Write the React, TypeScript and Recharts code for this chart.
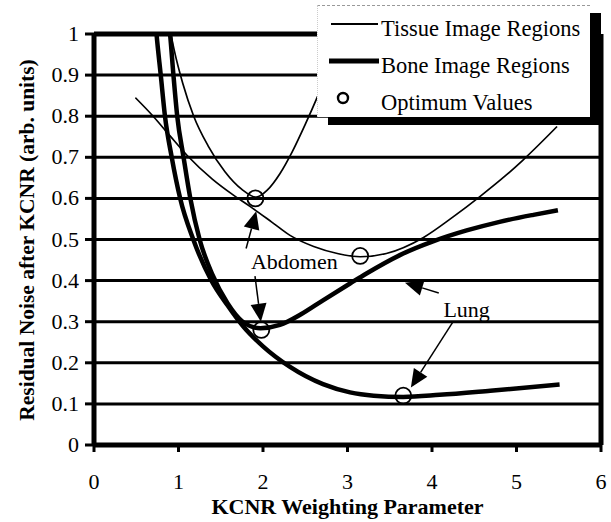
import React from 'react';
import {
  ComposedChart, Line, Scatter, XAxis, YAxis, CartesianGrid,
  ReferenceLine, ReferenceDot, Label,
} from 'recharts';

const FONT = 'Liberation Serif, Tinos, Times New Roman, Times, DejaVu Serif, serif';

const xTicks = [0, 1, 2, 3, 4, 5, 6];
const yTicks = [0, 0.1, 0.2, 0.3, 0.4, 0.5, 0.6, 0.7, 0.8, 0.9, 1];

// thin curves (tissue image regions)
const tissueAbdomenX = [0.9, 0.95, 1.05, 1.18, 1.35, 1.55, 1.75, 1.92, 2.05, 2.2, 2.35, 2.5, 2.65, 2.8, 2.95, 3.05];
const tissueAbdomenY = [1.01, 0.96, 0.88, 0.8, 0.728, 0.665, 0.622, 0.603, 0.62, 0.66, 0.715, 0.78, 0.85, 0.925, 1.005, 1.06];

const tissueLungX = [0.49, 0.7, 0.9, 1.1, 1.4, 1.65, 1.85, 2.1, 2.32, 2.6, 2.88, 3.15, 3.46, 3.9, 4.25, 4.57, 4.88, 5.08, 5.48];
const tissueLungY = [0.845, 0.8, 0.752, 0.705, 0.647, 0.608, 0.58, 0.543, 0.51, 0.483, 0.466, 0.458, 0.466, 0.505, 0.555, 0.605, 0.657, 0.694, 0.775];

// thick curves (bone image regions)
const boneAbdomenX = [0.87, 0.9, 0.94, 0.985, 1.06, 1.14, 1.25, 1.4, 1.58, 1.76, 1.97, 2.2, 2.45, 2.71, 3.03, 3.23, 3.62, 4.02, 4.41, 4.8, 5.2, 5.49];
const boneAbdomenY = [1.05, 1.0, 0.9, 0.8, 0.7, 0.6, 0.5, 0.415, 0.345, 0.3, 0.284, 0.292, 0.318, 0.352, 0.393, 0.418, 0.462, 0.496, 0.522, 0.543, 0.56, 0.571];

const boneLungX = [0.72, 0.74, 0.79, 0.84, 0.92, 1.02, 1.175, 1.39, 1.58, 1.76, 2.0, 2.32, 2.71, 3.03, 3.31, 3.66, 4.09, 4.69, 5.51];
const boneLungY = [1.05, 1.0, 0.9, 0.8, 0.7, 0.6, 0.5, 0.4, 0.34, 0.29, 0.24, 0.19, 0.148, 0.128, 0.12, 0.117, 0.122, 0.132, 0.147];

const optimumX = [1.91, 3.15, 1.98, 3.66];
const optimumY = [0.6, 0.46, 0.28, 0.12];

const legendLabels = ['Tissue Image Regions', 'Bone Image Regions', 'Optimum Values'];

// annotation arrows: [tailX, tailY, tipX, tipY]
const arrows = [
  [1.8, 0.478, 1.92, 0.569],
  [1.905, 0.411, 1.975, 0.3],
  [4.25, 0.3, 3.75, 0.14],
  [4.08, 0.37, 3.68, 0.395],
];
const notes = [
  { text: 'Abdomen', x: 2.37, y: 0.428 },
  { text: 'Lung', x: 4.41, y: 0.311 },
];

const toPoints = (xs: number[], ys: number[]) => xs.map((x, i) => ({ x, y: ys[i] }));

function Arrow(props: any) {
  const { x1, y1, x2, y2 } = props;
  const dx = x2 - x1;
  const dy = y2 - y1;
  const len = Math.hypot(dx, dy) || 1;
  const ux = dx / len;
  const uy = dy / len;
  const head = 18;
  const half = 8;
  const bx = x2 - ux * head;
  const by = y2 - uy * head;
  const pts = `${x2},${y2} ${bx - uy * half},${by + ux * half} ${bx + uy * half},${by - ux * half}`;
  return (
    <g>
      <line x1={x1} y1={y1} x2={bx} y2={by} stroke="#000" strokeWidth={1.5} />
      <polygon points={pts} fill="#000" />
    </g>
  );
}

function XTick({ x, y, payload }: any) {
  return (
    <text x={x} y={y + 37} textAnchor="middle" fontFamily={FONT} fontSize={22} fill="#000">
      {payload.value}
    </text>
  );
}

function YTick({ x, y, payload }: any) {
  return (
    <text x={x - 6} y={y + 7} textAnchor="end" fontFamily={FONT} fontSize={22} fill="#000">
      {Number(payload.value.toFixed(1)).toString()}
    </text>
  );
}

function OpenCircle({ cx, cy }: any) {
  return <circle cx={cx} cy={cy} r={8} fill="none" stroke="#000" strokeWidth={1.8} />;
}

function ChartLegend() {
  const row = { position: 'absolute' as const, left: 63, fontFamily: FONT, fontSize: 22.5, lineHeight: '24px', color: '#000', whiteSpace: 'nowrap' as const };
  return (
    <div
      style={{
        position: 'absolute', left: 317, top: 5, width: 273, height: 112,
        background: '#fff', borderTop: '1px dashed #999', borderLeft: '1px dotted #ccc',
        boxShadow: '11px 8px 0 0 #000', boxSizing: 'border-box',
      }}
    >
      <svg width={70} height={112} style={{ position: 'absolute', left: 0, top: 0 }}>
        <line x1={13} y1={18} x2={60} y2={18} stroke="#000" strokeWidth={1.8} />
        <line x1={11} y1={55} x2={61} y2={55} stroke="#000" strokeWidth={5} />
        <circle cx={25} cy={92} r={5} fill="none" stroke="#000" strokeWidth={2.4} />
      </svg>
      <div style={{ ...row, top: 11 }}>{legendLabels[0]}</div>
      <div style={{ ...row, top: 48 }}>{legendLabels[1]}</div>
      <div style={{ ...row, top: 85 }}>{legendLabels[2]}</div>
    </div>
  );
}

export default function App() {
  return (
    <div style={{ position: 'absolute', left: 0, top: 0, width: 611, height: 522, background: '#fff' }}>
      <ComposedChart width={611} height={522} margin={{ top: 34, right: 10, bottom: 0, left: 0 }}>
        <CartesianGrid horizontal vertical={false} stroke="#000" strokeWidth={3} strokeOpacity={1} />
        <XAxis
          type="number"
          dataKey="x"
          domain={[0, 6]}
          ticks={xTicks}
          allowDataOverflow
          height={77}
          tickSize={7}
          tickMargin={0}
          tick={<XTick />}
          axisLine={{ stroke: '#000', strokeWidth: 5 }}
          tickLine={{ stroke: '#000', strokeWidth: 3 }}
        >
          <Label
            value="KCNR Weighting Parameter"
            position="insideBottom"
            offset={8}
            style={{ fontFamily: FONT, fontSize: 22, fontWeight: 'bold', fill: '#000' }}
          />
        </XAxis>
        <YAxis
          type="number"
          dataKey="y"
          domain={[0, 1]}
          ticks={yTicks}
          allowDataOverflow
          width={94}
          tickSize={9}
          tickMargin={0}
          tick={<YTick />}
          axisLine={{ stroke: '#000', strokeWidth: 5 }}
          tickLine={{ stroke: '#000', strokeWidth: 3 }}
        >
          <Label
            content={() => (
              <text
                x={27}
                y={240}
                transform="rotate(-90, 27, 240)"
                textAnchor="middle"
                dominantBaseline="central"
                fontFamily={FONT}
                fontSize={21.5}
                fontWeight="bold"
                fill="#000"
              >
                Residual Noise after KCNR (arb. units)
              </text>
            )}
          />
        </YAxis>
        <ReferenceLine y={1} stroke="#000" strokeWidth={5} />
        <ReferenceLine x={6} stroke="#000" strokeWidth={5} />

        <Line data={toPoints(tissueAbdomenX, tissueAbdomenY)} dataKey="y" type="monotone" stroke="#000" strokeWidth={1.7} dot={false} isAnimationActive={false} name="Tissue Abdomen" />
        <Line data={toPoints(tissueLungX, tissueLungY)} dataKey="y" type="monotone" stroke="#000" strokeWidth={1.7} dot={false} isAnimationActive={false} name="Tissue Lung" />
        <Line data={toPoints(boneAbdomenX, boneAbdomenY)} dataKey="y" type="monotone" stroke="#000" strokeWidth={4.5} dot={false} isAnimationActive={false} name="Bone Abdomen" />
        <Line data={toPoints(boneLungX, boneLungY)} dataKey="y" type="monotone" stroke="#000" strokeWidth={4.5} dot={false} isAnimationActive={false} name="Bone Lung" />
        <Scatter data={toPoints(optimumX, optimumY)} dataKey="y" shape={<OpenCircle />} isAnimationActive={false} name="Optimum Values" />

        {arrows.map((a, i) => (
          <ReferenceLine
            key={`arrow-${i}`}
            segment={[{ x: a[0], y: a[1] }, { x: a[2], y: a[3] }]}
            shape={(p: any) => <Arrow {...p} />}
          />
        ))}
        {notes.map((n) => (
          <ReferenceDot
            key={n.text}
            x={n.x}
            y={n.y}
            r={0}
            shape={(p: any) => (
              <text x={p.cx} y={p.cy} textAnchor="middle" fontFamily={FONT} fontSize={22} fill="#000">
                {n.text}
              </text>
            )}
          />
        ))}
      </ComposedChart>
      <ChartLegend />
    </div>
  );
}
